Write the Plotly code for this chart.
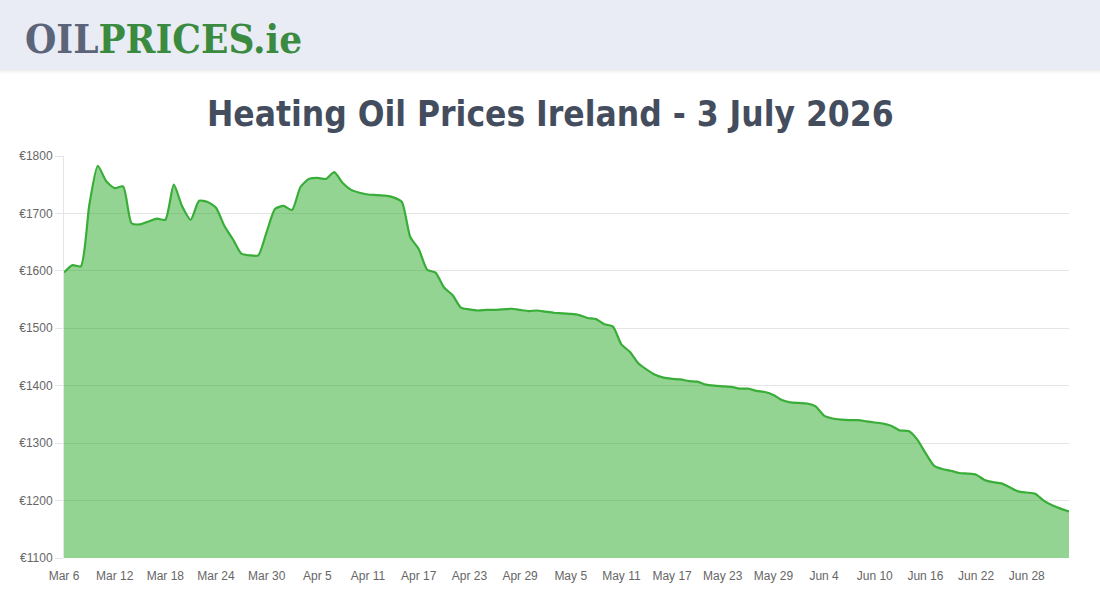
import pandas as pd
import plotly.graph_objects as go

# ---- data ----
start_date = "2026-03-06"
prices = [
    1597, 1610, 1608, 1715, 1783, 1756, 1744, 1747, 1683, 1681,
    1686, 1691, 1689, 1750, 1712, 1689, 1722, 1720, 1710, 1678,
    1655, 1630, 1627, 1627, 1668, 1708, 1713, 1706, 1746, 1760,
    1762, 1760, 1772, 1753, 1741, 1736, 1733, 1732, 1731, 1728,
    1720, 1659, 1638, 1602, 1597, 1571, 1558, 1536, 1533, 1531,
    1532, 1532, 1533, 1534, 1532, 1530, 1531, 1529, 1527, 1526,
    1525, 1523, 1518, 1516, 1507, 1503, 1472, 1459, 1439, 1428,
    1419, 1414, 1412, 1411, 1408, 1407, 1402, 1400, 1399, 1398,
    1395, 1395, 1391, 1389, 1384, 1375, 1371, 1370, 1369, 1364,
    1348, 1343, 1341, 1340, 1340, 1338, 1336, 1334, 1330, 1322,
    1321, 1307, 1283, 1261, 1255, 1252, 1248, 1247, 1245, 1236,
    1232, 1230, 1223, 1216, 1214, 1212, 1200, 1192, 1186, 1181,
]
dates = pd.date_range(start_date, periods=len(prices), freq="D")

x_tick_vals = dates[::6]
x_tick_text = ["Mar 6", "Mar 12", "Mar 18", "Mar 24", "Mar 30", "Apr 5", "Apr 11",
               "Apr 17", "Apr 23", "Apr 29", "May 5", "May 11", "May 17", "May 23",
               "May 29", "Jun 4", "Jun 10", "Jun 16", "Jun 22", "Jun 28"]
y_tick_vals = [1100, 1200, 1300, 1400, 1500, 1600, 1700, 1800]
y_tick_text = ["€" + str(v) for v in y_tick_vals]

title_text = "Heating Oil Prices Ireland - 3 July 2026"

# ---- layout constants ----
W, H = 1100, 600
ML, MR, MT, MB = 64, 31, 156, 42
PW, PH = W - ML - MR, H - MT - MB


def px_x(px):
    return (px - ML) / PW


def px_y(py):
    return 1 - (py - MT) / PH


fig = go.Figure()
fig.add_trace(go.Scatter(
    x=dates, y=prices, mode="lines",
    line=dict(color="#38ad38", width=2.2, shape="spline", smoothing=0.6),
    fill="tozeroy", fillcolor="rgba(40,170,40,0.5)",
    hoverinfo="x+y",
))

shapes = []
# header band
shapes.append(dict(type="rect", xref="paper", yref="paper",
                   x0=px_x(0), x1=px_x(W), y0=px_y(70), y1=px_y(0),
                   fillcolor="#e9ecf4", line=dict(width=0), layer="below"))
# soft shadow below header
for i, op in enumerate([0.06, 0.04, 0.025, 0.012]):
    shapes.append(dict(type="rect", xref="paper", yref="paper",
                       x0=px_x(0), x1=px_x(W), y0=px_y(71 + i), y1=px_y(70 + i),
                       fillcolor="rgba(0,0,0,%s)" % op, line=dict(width=0), layer="below"))

annotations = [
    dict(xref="paper", yref="paper", x=px_x(23), y=px_y(38), xanchor="left", yanchor="middle",
         text="<b><span style='color:#5b6479'>OIL</span><span style='color:#3a8b3f'>PRICES.ie</span></b>",
         showarrow=False,
         font=dict(family="DejaVu Serif Condensed, DejaVu Serif, serif", size=40)),
    dict(xref="paper", yref="paper", x=px_x(550), y=px_y(114), xanchor="center", yanchor="middle",
         text=title_text, showarrow=False,
         font=dict(family="DejaVu Sans Condensed, sans-serif",
                   size=35, color="#444d5e", weight=700)),
]

fig.update_layout(
    width=W, height=H,
    margin=dict(l=ML, r=MR, t=MT, b=MB, pad=0),
    paper_bgcolor="white", plot_bgcolor="white",
    showlegend=False,
    shapes=shapes, annotations=annotations,
    font=dict(family="Liberation Sans, Arial, sans-serif", size=12, color="#666666"),
    xaxis=dict(
        type="date",
        range=[dates[0], dates[-1]],
        tickvals=x_tick_vals, ticktext=x_tick_text,
        showgrid=False, zeroline=False,
        showline=False, ticks="", ticklen=0,
        ticklabelstandoff=9,
        tickfont=dict(size=12, color="#666666"),
        fixedrange=True,
    ),
    yaxis=dict(
        range=[1100, 1800],
        tickvals=y_tick_vals, ticktext=y_tick_text,
        showgrid=True, gridcolor="#e5e5e5", gridwidth=1,
        zeroline=False,
        showline=True, linecolor="#e5e5e5", linewidth=1,
        ticks="outside", ticklen=8, tickcolor="#e5e5e5",
        tickfont=dict(size=12, color="#666666"),
        fixedrange=True,
    ),
)

fig.write_html("out.html")
